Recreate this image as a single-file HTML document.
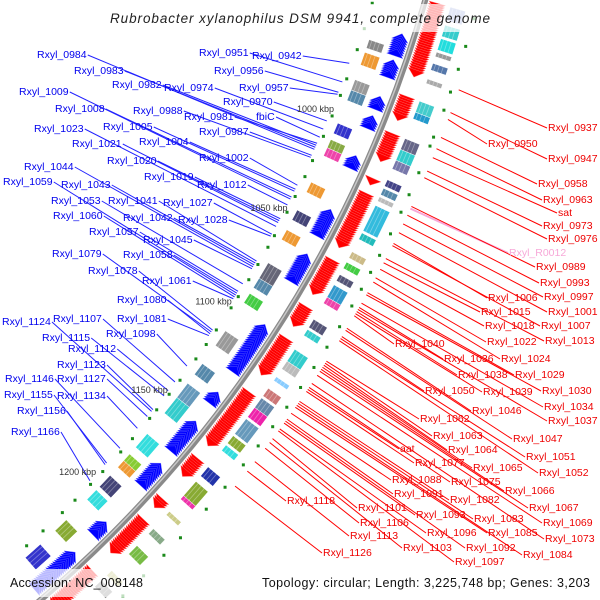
<!DOCTYPE html>
<html><head><meta charset="utf-8"><style>
html,body{margin:0;padding:0;background:#fff;width:600px;height:600px;overflow:hidden;}
svg{display:block;font-family:"Liberation Sans",sans-serif;}
.bl{fill:#0000ee;font-size:10.5px;}
.rl{fill:#ee0000;font-size:10.5px;}
</style></head><body>
<svg id="map" width="600" height="600" viewBox="0 0 600 600" xmlns="http://www.w3.org/2000/svg" overflow="hidden">
<g id="lines"></g>
<g id="feat"></g>
<circle cx="-759" cy="-336" r="1231" fill="none" stroke="#8a8a8a" stroke-width="6"/>
<circle cx="-759" cy="-336" r="1230" fill="none" stroke="#c8c8c8" stroke-width="1.5"/>
<g id="ticks"></g>
<g id="labels">
<text class="bl" x="37" y="58">Rxyl_0984</text>
<text class="bl" x="74" y="74">Rxyl_0983</text>
<text class="bl" x="112" y="88">Rxyl_0982</text>
<text class="bl" x="164" y="91">Rxyl_0974</text>
<text class="bl" x="19" y="95">Rxyl_1009</text>
<text class="bl" x="55" y="112">Rxyl_1008</text>
<text class="bl" x="133" y="114">Rxyl_0988</text>
<text class="bl" x="184" y="120">Rxyl_0981</text>
<text class="bl" x="34" y="132">Rxyl_1023</text>
<text class="bl" x="103" y="130">Rxyl_1005</text>
<text class="bl" x="72" y="147">Rxyl_1021</text>
<text class="bl" x="139" y="145">Rxyl_1004</text>
<text class="bl" x="199" y="135">Rxyl_0987</text>
<text class="bl" x="107" y="164">Rxyl_1020</text>
<text class="bl" x="199" y="161">Rxyl_1002</text>
<text class="bl" x="24" y="170">Rxyl_1044</text>
<text class="bl" x="144" y="180">Rxyl_1019</text>
<text class="bl" x="3" y="185">Rxyl_1059</text>
<text class="bl" x="61" y="188">Rxyl_1043</text>
<text class="bl" x="197" y="188">Rxyl_1012</text>
<text class="bl" x="51" y="204">Rxyl_1053</text>
<text class="bl" x="108" y="204">Rxyl_1041</text>
<text class="bl" x="163" y="206">Rxyl_1027</text>
<text class="bl" x="53" y="219">Rxyl_1060</text>
<text class="bl" x="123" y="221">Rxyl_1042</text>
<text class="bl" x="178" y="223">Rxyl_1028</text>
<text class="bl" x="89" y="235">Rxyl_1057</text>
<text class="bl" x="143" y="243">Rxyl_1045</text>
<text class="bl" x="52" y="257">Rxyl_1079</text>
<text class="bl" x="123" y="258">Rxyl_1058</text>
<text class="bl" x="88" y="274">Rxyl_1078</text>
<text class="bl" x="142" y="284">Rxyl_1061</text>
<text class="bl" x="117" y="303">Rxyl_1080</text>
<text class="bl" x="2" y="325">Rxyl_1124</text>
<text class="bl" x="53" y="322">Rxyl_1107</text>
<text class="bl" x="117" y="322">Rxyl_1081</text>
<text class="bl" x="42" y="341">Rxyl_1115</text>
<text class="bl" x="106" y="337">Rxyl_1098</text>
<text class="bl" x="68" y="352">Rxyl_1112</text>
<text class="bl" x="57" y="368">Rxyl_1123</text>
<text class="bl" x="5" y="382">Rxyl_1146</text>
<text class="bl" x="57" y="382">Rxyl_1127</text>
<text class="bl" x="4" y="398">Rxyl_1155</text>
<text class="bl" x="57" y="399">Rxyl_1134</text>
<text class="bl" x="17" y="414">Rxyl_1156</text>
<text class="bl" x="11" y="435">Rxyl_1166</text>
<text class="bl" x="199" y="56">Rxyl_0951</text>
<text class="bl" x="252" y="59">Rxyl_0942</text>
<text class="bl" x="214" y="74">Rxyl_0956</text>
<text class="bl" x="239" y="91">Rxyl_0957</text>
<text class="bl" x="223" y="105">Rxyl_0970</text>
<text class="bl" x="256" y="120">fbiC</text>

<text class="rl" x="548" y="131">Rxyl_0937</text>
<text class="rl" x="488" y="147">Rxyl_0950</text>
<text class="rl" x="548" y="162">Rxyl_0947</text>
<text class="rl" x="538" y="187">Rxyl_0958</text>
<text class="rl" x="543" y="203">Rxyl_0963</text>
<text class="rl" x="558" y="216">sat</text>
<text class="rl" x="543" y="229">Rxyl_0973</text>
<text class="rl" x="548" y="242">Rxyl_0976</text>
<text class="rl" x="509" y="256" style="fill:#f7a8d8">Rxyl_R0012</text>
<text class="rl" x="536" y="270">Rxyl_0989</text>
<text class="rl" x="540" y="286">Rxyl_0993</text>
<text class="rl" x="544" y="300">Rxyl_0997</text>
<text class="rl" x="488" y="301">Rxyl_1006</text>
<text class="rl" x="548" y="315">Rxyl_1001</text>
<text class="rl" x="481" y="315">Rxyl_1015</text>
<text class="rl" x="541" y="329">Rxyl_1007</text>
<text class="rl" x="485" y="329">Rxyl_1018</text>
<text class="rl" x="545" y="344">Rxyl_1013</text>
<text class="rl" x="487" y="345">Rxyl_1022</text>
<text class="rl" x="395" y="347">Rxyl_1040</text>
<text class="rl" x="444" y="362">Rxyl_1036</text>
<text class="rl" x="501" y="362">Rxyl_1024</text>
<text class="rl" x="458" y="378">Rxyl_1038</text>
<text class="rl" x="515" y="378">Rxyl_1029</text>
<text class="rl" x="425" y="394">Rxyl_1050</text>
<text class="rl" x="483" y="395">Rxyl_1039</text>
<text class="rl" x="542" y="394">Rxyl_1030</text>
<text class="rl" x="472" y="414">Rxyl_1046</text>
<text class="rl" x="544" y="410">Rxyl_1034</text>
<text class="rl" x="420" y="422">Rxyl_1062</text>
<text class="rl" x="548" y="424">Rxyl_1037</text>
<text class="rl" x="433" y="439">Rxyl_1063</text>
<text class="rl" x="513" y="442">Rxyl_1047</text>
<text class="rl" x="400" y="452">aat</text>
<text class="rl" x="448" y="453">Rxyl_1064</text>
<text class="rl" x="526" y="460">Rxyl_1051</text>
<text class="rl" x="415" y="466">Rxyl_1077</text>
<text class="rl" x="473" y="471">Rxyl_1065</text>
<text class="rl" x="539" y="476">Rxyl_1052</text>
<text class="rl" x="392" y="483">Rxyl_1088</text>
<text class="rl" x="451" y="485">Rxyl_1075</text>
<text class="rl" x="505" y="494">Rxyl_1066</text>
<text class="rl" x="394" y="497">Rxyl_1091</text>
<text class="rl" x="287" y="504">Rxyl_1118</text>
<text class="rl" x="450" y="503">Rxyl_1082</text>
<text class="rl" x="358" y="511">Rxyl_1101</text>
<text class="rl" x="529" y="511">Rxyl_1067</text>
<text class="rl" x="416" y="518">Rxyl_1093</text>
<text class="rl" x="474" y="522">Rxyl_1083</text>
<text class="rl" x="543" y="526">Rxyl_1069</text>
<text class="rl" x="360" y="526">Rxyl_1106</text>
<text class="rl" x="427" y="536">Rxyl_1096</text>
<text class="rl" x="488" y="536">Rxyl_1085</text>
<text class="rl" x="350" y="539">Rxyl_1113</text>
<text class="rl" x="545" y="542">Rxyl_1073</text>
<text class="rl" x="403" y="551">Rxyl_1103</text>
<text class="rl" x="466" y="551">Rxyl_1092</text>
<text class="rl" x="523" y="558">Rxyl_1084</text>
<text class="rl" x="323" y="556">Rxyl_1126</text>
<text class="rl" x="455" y="565">Rxyl_1097</text>
</g>
<rect x="0" y="4" width="600" height="28" fill="#fff" fill-opacity="0.72"/>
<text x="300" y="23" text-anchor="middle" font-style="italic" font-size="13.5" fill="#222" textLength="380" lengthAdjust="spacing">Rubrobacter xylanophilus DSM 9941, complete genome</text>
<rect x="0" y="569" width="600" height="28" fill="#fff" fill-opacity="0.72"/>
<text x="10" y="587" font-size="12.5" fill="#111" textLength="133" lengthAdjust="spacing">Accession: NC_008148</text>
<text x="262" y="587" font-size="12.5" fill="#111" textLength="328" lengthAdjust="spacing">Topology: circular; Length: 3,225,748 bp; Genes: 3,203</text>
</svg>
<script>
const CX=-759, CY=-336, R0=1231;
const redNames=["Rxyl_0937","Rxyl_0950","Rxyl_0947","Rxyl_0958","Rxyl_0963","sat","Rxyl_0973","Rxyl_0976","Rxyl_R0012","Rxyl_0989","Rxyl_0993","Rxyl_0997","Rxyl_1006","Rxyl_1001","Rxyl_1015","Rxyl_1007","Rxyl_1018","Rxyl_1013","Rxyl_1022","Rxyl_1040","Rxyl_1036","Rxyl_1024","Rxyl_1038","Rxyl_1029","Rxyl_1050","Rxyl_1039","Rxyl_1030","Rxyl_1046","Rxyl_1034","Rxyl_1062","Rxyl_1037","Rxyl_1063","Rxyl_1047","aat","Rxyl_1064","Rxyl_1051","Rxyl_1077","Rxyl_1065","Rxyl_1052","Rxyl_1088","Rxyl_1075","Rxyl_1066","Rxyl_1091","Rxyl_1118","Rxyl_1082","Rxyl_1101","Rxyl_1067","Rxyl_1093","Rxyl_1083","Rxyl_1069","Rxyl_1106","Rxyl_1096","Rxyl_1085","Rxyl_1113","Rxyl_1073","Rxyl_1103","Rxyl_1092","Rxyl_1084","Rxyl_1126","Rxyl_1097"];
const redKbp=[970,983,980,991,996,1000,1006,1009,1023,1022,1026,1030,1039,1034,1048,1040,1051,1046,1055,1073,1069,1057,1071,1062,1083,1072,1063,1079,1067,1095,1070,1096,1080,1109,1097,1084,1110,1098,1085,1121,1108,1099,1124,1151,1115,1134,1100,1126,1116,1102,1139,1129,1118,1146,1106,1136,1125,1117,1159,1130];
const blueNames=["Rxyl_0984","Rxyl_0983","Rxyl_0982","Rxyl_0974","Rxyl_1009","Rxyl_1008","Rxyl_0988","Rxyl_0981","Rxyl_1023","Rxyl_1005","Rxyl_1021","Rxyl_1004","Rxyl_0987","Rxyl_1020","Rxyl_1002","Rxyl_1044","Rxyl_1019","Rxyl_1059","Rxyl_1043","Rxyl_1012","Rxyl_1053","Rxyl_1041","Rxyl_1027","Rxyl_1060","Rxyl_1042","Rxyl_1028","Rxyl_1057","Rxyl_1045","Rxyl_1079","Rxyl_1058","Rxyl_1078","Rxyl_1061","Rxyl_1080","Rxyl_1124","Rxyl_1107","Rxyl_1081","Rxyl_1115","Rxyl_1098","Rxyl_1112","Rxyl_1123","Rxyl_1146","Rxyl_1127","Rxyl_1155","Rxyl_1134","Rxyl_1156","Rxyl_1166","Rxyl_0951","Rxyl_0942","Rxyl_0956","Rxyl_0957","Rxyl_0970","fbiC"];
const blueKbp=[1017,1016,1015,1007,1042,1041,1021,1014,1056,1038,1054,1037,1020,1053,1035,1077,1052,1092,1076,1045,1086,1074,1060,1093,1075,1061,1090,1078,1112,1091,1111,1094,1113,1157,1140,1114,1148,1131,1145,1156,1179,1160,1188,1167,1189,1199,984,975,989,990,1003,1011];
const fwdStart=[938,980,997,1018,1025,1057,1080,1096,1124,1160,1183,1195,1226];
const fwdEnd=[972,992,1011,1022,1052,1075,1091,1116,1154,1171,1189,1216,1251];
const revStart=[955,967,984,993,1012,1038,1060,1096,1132,1148,1172,1207,1226];
const revEnd=[966,976,991,1000,1019,1052,1075,1122,1139,1166,1186,1216,1251];
const cogFwdStart=[938,946,952,958,963,970,980,985,997,1002,1007,1016,1020,1024,1028,1041,1050,1055,1061,1066,1072,1083,1088,1098,1104,1112,1118,1123,1128,1134,1143,1148,1160,1168,1176,1185,1195,1205,1220,1226,1240];
const cogFwdEnd=[944,951,957,960,966,972,985,988,1002,1007,1011,1019,1023,1026,1040,1044,1053,1058,1064,1072,1075,1087,1091,1104,1108,1114,1122,1128,1133,1142,1147,1151,1165,1176,1178,1187,1198,1210,1223,1230,1248];
const cogFwdColor=["#9ad","#3cc","#2dd","#999","#57a","#aaa","#4cc","#29c","#668","#3cc","#77a","#448","#58a","#bbb","#3bd","#2bb","#cb8","#4c4","#557","#39c","#e4a","#557","#3cc","#3cc","#bbb","#8cf","#c77","#68a","#e2a","#69b","#8a3","#3dd","#23a","#8a3","#e3a","#cc8","#8a8","#7b4","#bb6","#888","#3dd"];
const cogRevStart=[962,968,981,986,1002,1010,1014,1031,1045,1055,1072,1080,1088,1108,1126,1137,1145,1166,1178,1182,1191,1200,1219,1235];
const cogRevEnd=[966,974,986,991,1007,1014,1018,1036,1050,1060,1080,1085,1093,1116,1132,1145,1154,1174,1182,1186,1198,1206,1226,1244];
const cogRevColor=["#888","#e93","#999","#58a","#33c","#8a4","#e4a","#e93","#447","#e93","#667","#58a","#4c4","#999","#58a","#69b","#3cc","#3dd","#8c3","#e93","#447","#3dd","#8a3","#33c"];
const dotOut=[940,952,962,972,980,992,996,1008,1018,1026,1036,1046,1054,1062,1070,1080,1090,1100,1110,1120,1130,1140,1150,1162,1174,1190,1200,1212,1224,1236];
const dotIn=[946,958,968,982,990,1000,1010,1022,1030,1040,1048,1060,1066,1075,1083,1092,1098,1110,1118,1126,1138,1146,1155,1160,1172,1180,1192,1200,1210,1218,1230,1240];
const tickKbp=[1000,1050,1100,1150,1200];
const tickText=["1000 kbp","1050 kbp","1100 kbp","1150 kbp","1200 kbp"];

const NS="http://www.w3.org/2000/svg";
function ang(k){return (22.5+(k-1000)*0.1075)*Math.PI/180;}
function pt(r,k){const a=ang(k);return [CX+r*Math.cos(a),CY+r*Math.sin(a)];}
function mk(tag,parent,attrs){const e=document.createElementNS(NS,tag);for(const a in attrs)e.setAttribute(a,attrs[a]);parent.appendChild(e);return e;}
function ps(arr){return arr.map(p=>p[0].toFixed(1)+","+p[1].toFixed(1)).join(" ");}
const feat=document.getElementById('feat');
for(let b=0;b<fwdStart.length;b++){
  for(let k=fwdStart[b]+3.2;k<=fwdEnd[b];k+=1){
    const p=mk('polygon',feat,{points:ps([pt(R0+4,k-3.2),pt(R0+21,k-3.2),pt(R0+12.5,k)]),fill:'#f00',stroke:'#ff7a7a','stroke-width':0.4});
    
    
  }
}
for(let b=0;b<revStart.length;b++){
  for(let k=revStart[b];k<=revEnd[b]-3.2;k+=1){
    const p=mk('polygon',feat,{points:ps([pt(R0-4,k+3.2),pt(R0-21,k+3.2),pt(R0-12.5,k)]),fill:'#00f',stroke:'#6a6aff','stroke-width':0.4});
    
    
  }
}
function box(r1,r2,a,b,col,name){
  const p=mk('polygon',feat,{points:ps([pt(r1,a),pt(r2,a),pt(r2,b),pt(r1,b)]),fill:col,stroke:'#fff','stroke-width':0.5});
  
  
  for(let s=r1+3;s<r2-1;s+=4){
    const l=mk('line',feat,{x1:pt(s,a)[0],y1:pt(s,a)[1],x2:pt(s,b)[0],y2:pt(s,b)[1],stroke:'#fff','stroke-opacity':0.35,'stroke-width':0.8});
    
    
  }
}
for(let i=0;i<cogFwdStart.length;i++)box(R0+26,R0+42,cogFwdStart[i],cogFwdEnd[i],cogFwdColor[i],'forward-cog-box');
for(let i=0;i<cogRevStart.length;i++)box(R0-42,R0-26,cogRevStart[i],cogRevEnd[i],cogRevColor[i],'reverse-cog-box');
for(const k of dotOut){const p=pt(R0+52,k);
  const d=mk('rect',feat,{x:p[0]-1.5,y:p[1]-1.5,width:3,height:3,fill:'#1a8a1a'});
  
  }
for(const k of dotIn){const p=pt(R0-50,k);
  const d=mk('rect',feat,{x:p[0]-1.5,y:p[1]-1.5,width:3,height:3,fill:'#1a8a1a'});
  
  }
const ticks=document.getElementById('ticks');
for(let i=0;i<tickKbp.length;i++){const p=pt(1163,tickKbp[i]);
  const t=mk('text',ticks,{x:p[0],y:p[1]+3,'text-anchor':'middle','font-size':9,fill:'#333'});
  t.textContent=tickText[i];
  
  }
const lines=document.getElementById('lines');
const texts=[...document.querySelectorAll('#labels text')];
function findText(n){return texts.find(t=>t.textContent===n);}
texts.forEach(t=>{});
for(let i=0;i<redNames.length;i++){const t=findText(redNames[i]);if(!t)continue;
  const bb=t.getBBox();const p=pt(1290,redKbp[i]);
  const pink=redNames[i]==='Rxyl_R0012';
  const l=mk('line',lines,{x1:p[0],y1:p[1],x2:bb.x-1,y2:bb.y+bb.height/2,stroke:pink?'#f7a8d8':'#f00','stroke-width':pink?2:1});
  
  }
for(let i=0;i<blueNames.length;i++){const t=findText(blueNames[i]);if(!t)continue;
  const bb=t.getBBox();const p=pt(1178,blueKbp[i]);
  const l=mk('line',lines,{x1:bb.x+bb.width+1,y1:bb.y+bb.height/2,x2:p[0],y2:p[1],stroke:'#22f','stroke-width':1});
  
  }
</script>
</body></html>
